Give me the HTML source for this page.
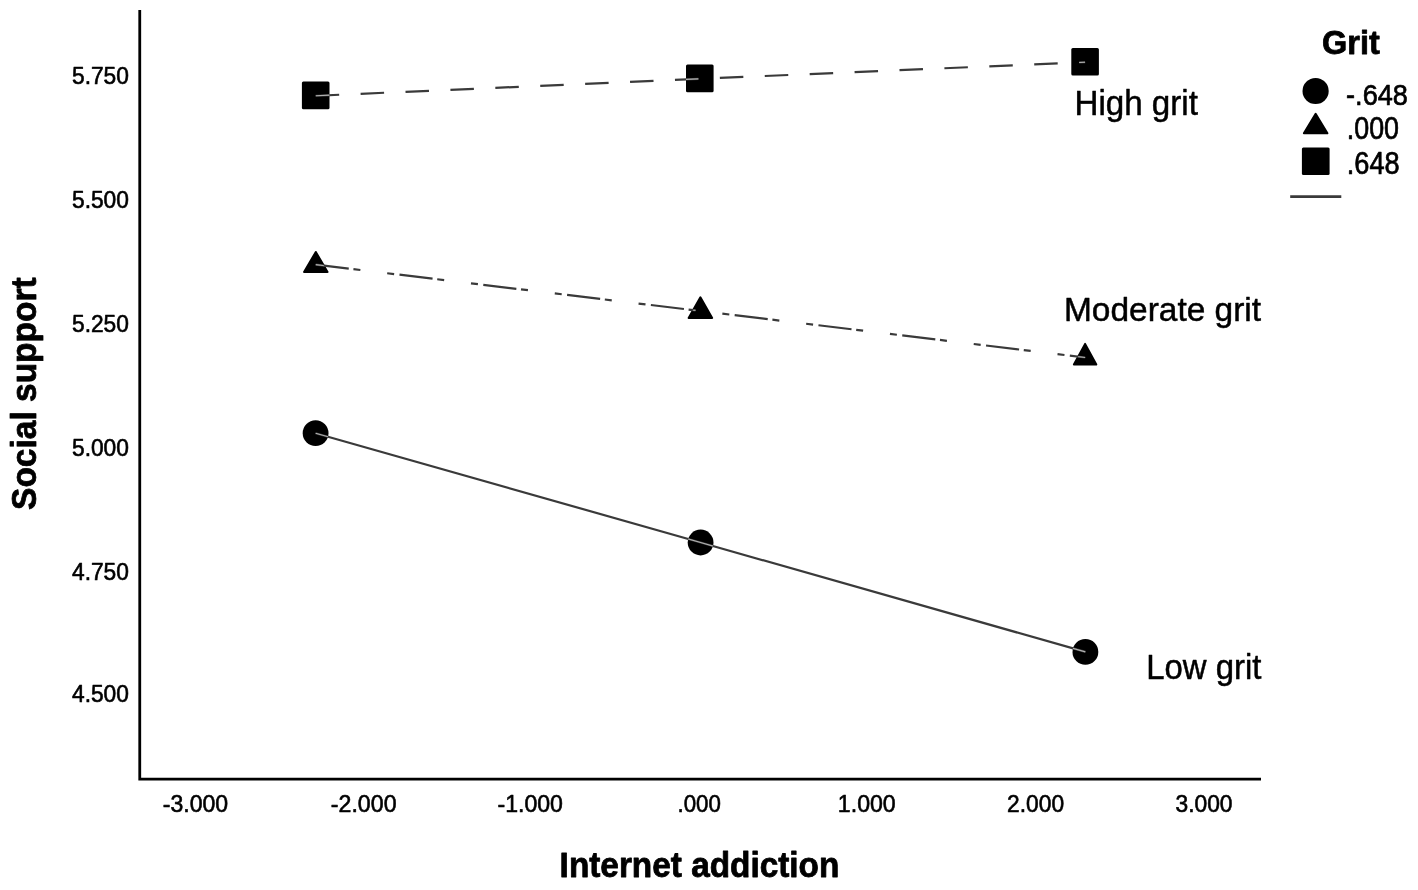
<!DOCTYPE html>
<html><head><meta charset="utf-8"><title>Social support by Internet addiction and Grit</title>
<style>
html,body{margin:0;padding:0;background:#fff;}
body{width:1418px;height:890px;overflow:hidden;}
svg{display:block;font-family:"Liberation Sans",Arial,Helvetica,sans-serif;}
</style></head>
<body>
<svg width="1418" height="890" viewBox="0 0 1418 890">
<rect width="1418" height="890" fill="#fff"/>

<defs><clipPath id="mk">
<rect x="301.9" y="81.6" width="27.6" height="27.6" rx="1.5"/>
<rect x="686.0" y="64.6" width="27.6" height="27.6" rx="1.5"/>
<rect x="1071.3" y="48.0" width="27.6" height="27.6" rx="1.5"/>
<polygon points="315.80,251.97 327.55,271.90 304.05,271.90" stroke="#000" stroke-width="2.0" stroke-linejoin="round"/>
<polygon points="700.40,297.32 712.18,318.00 688.62,318.00" stroke="#000" stroke-width="2.0" stroke-linejoin="round"/>
<polygon points="1085.10,343.89 1096.32,364.50 1073.88,364.50" stroke="#000" stroke-width="2.0" stroke-linejoin="round"/>
<circle cx="315.6" cy="433.2" r="12.9"/>
<circle cx="700.6" cy="542.5" r="12.9"/>
<circle cx="1085.4" cy="651.9" r="12.9"/>
</clipPath></defs>
<g fill="#000">
<rect x="301.9" y="81.6" width="27.6" height="27.6" rx="1.5"/>
<rect x="686.0" y="64.6" width="27.6" height="27.6" rx="1.5"/>
<rect x="1071.3" y="48.0" width="27.6" height="27.6" rx="1.5"/>
<polygon points="315.80,251.97 327.55,271.90 304.05,271.90" stroke="#000" stroke-width="2.0" stroke-linejoin="round"/>
<polygon points="700.40,297.32 712.18,318.00 688.62,318.00" stroke="#000" stroke-width="2.0" stroke-linejoin="round"/>
<polygon points="1085.10,343.89 1096.32,364.50 1073.88,364.50" stroke="#000" stroke-width="2.0" stroke-linejoin="round"/>
<circle cx="315.6" cy="433.2" r="12.9"/>
<circle cx="700.6" cy="542.5" r="12.9"/>
<circle cx="1085.4" cy="651.9" r="12.9"/>
<circle cx="1315.6" cy="91.0" r="13.1"/>
<polygon points="1315.65,113.74 1327.43,133.30 1303.87,133.30" stroke="#000" stroke-width="2.0" stroke-linejoin="round"/>
<rect x="1301.9" y="147.5" width="27.7" height="27.4" rx="1.5"/>
</g>
<g fill="none" stroke="#3a3a3a" stroke-width="2.2">
<polyline points="315.7,95.8 699.8,78.8 1085.1,62.2" stroke-dasharray="23.5 21.45"/>
<polyline points="315.7,264.6 700.4,311.0 1085.2,357.5" stroke-dasharray="33.3 4.7 7 27 7 5.4"/>
<polyline points="315.6,433.2 700.6,542.5 1085.4,651.9"/>
<line x1="1290.2" y1="196.6" x2="1341.3" y2="196.6" stroke-width="2.6"/>
</g>
<g fill="none" stroke="#b0b0b0" stroke-width="1.1" clip-path="url(#mk)">
<polyline points="315.7,95.8 699.8,78.8 1085.1,62.2" stroke-dasharray="23.5 21.45"/>
<polyline points="315.7,264.6 700.4,311.0 1085.2,357.5" stroke-dasharray="33.3 4.7 7 27 7 5.4"/>
<polyline points="315.6,433.2 700.6,542.5 1085.4,651.9"/>
</g>
<path d="M139.75 10 V779.1 H1261" fill="none" stroke="#000" stroke-width="2.8" stroke-linejoin="miter"/>

<g>
<text transform="translate(71.98 83.51) scale(0.9681 1)" font-size="23.52" font-weight="normal" fill="#000" stroke="#000" stroke-width="0.6" stroke-linejoin="round">5.750</text>
<text transform="translate(71.98 207.61) scale(0.9681 1)" font-size="23.52" font-weight="normal" fill="#000" stroke="#000" stroke-width="0.6" stroke-linejoin="round">5.500</text>
<text transform="translate(71.98 331.81) scale(0.9681 1)" font-size="23.52" font-weight="normal" fill="#000" stroke="#000" stroke-width="0.6" stroke-linejoin="round">5.250</text>
<text transform="translate(71.98 455.61) scale(0.9681 1)" font-size="23.52" font-weight="normal" fill="#000" stroke="#000" stroke-width="0.6" stroke-linejoin="round">5.000</text>
<text transform="translate(71.98 579.86) scale(0.9682 1)" font-size="23.52" font-weight="normal" fill="#000" stroke="#000" stroke-width="0.6" stroke-linejoin="round">4.750</text>
<text transform="translate(71.98 702.26) scale(0.9682 1)" font-size="23.52" font-weight="normal" fill="#000" stroke="#000" stroke-width="0.6" stroke-linejoin="round">4.500</text>
<text transform="translate(162.75 811.66) scale(0.9632 1)" font-size="23.94" font-weight="normal" fill="#000" stroke="#000" stroke-width="0.6" stroke-linejoin="round">-3.000</text>
<text transform="translate(330.85 811.66) scale(0.9677 1)" font-size="23.94" font-weight="normal" fill="#000" stroke="#000" stroke-width="0.6" stroke-linejoin="round">-2.000</text>
<text transform="translate(497.45 811.66) scale(0.9662 1)" font-size="23.94" font-weight="normal" fill="#000" stroke="#000" stroke-width="0.6" stroke-linejoin="round">-1.000</text>
<text transform="translate(677.47 811.66) scale(0.9306 1)" font-size="23.94" font-weight="normal" fill="#000" stroke="#000" stroke-width="0.6" stroke-linejoin="round">.000</text>
<text transform="translate(837.85 811.66) scale(0.9667 1)" font-size="23.94" font-weight="normal" fill="#000" stroke="#000" stroke-width="0.6" stroke-linejoin="round">1.000</text>
<text transform="translate(1007.05 811.66) scale(0.9517 1)" font-size="23.94" font-weight="normal" fill="#000" stroke="#000" stroke-width="0.6" stroke-linejoin="round">2.000</text>
<text transform="translate(1175.47 811.66) scale(0.9529 1)" font-size="23.94" font-weight="normal" fill="#000" stroke="#000" stroke-width="0.6" stroke-linejoin="round">3.000</text>
<text transform="translate(1074.49 115.00) scale(0.9596 1)" font-size="34.55" font-weight="normal" fill="#000" stroke="#000" stroke-width="0.5" stroke-linejoin="round">High grit</text>
<text transform="translate(1063.97 321.10) scale(0.9925 1)" font-size="33.72" font-weight="normal" fill="#000" stroke="#000" stroke-width="0.5" stroke-linejoin="round">Moderate grit</text>
<text transform="translate(1146.21 678.80) scale(0.9604 1)" font-size="34.28" font-weight="normal" fill="#000" stroke="#000" stroke-width="0.5" stroke-linejoin="round">Low grit</text>
<text transform="translate(1322.09 53.70) scale(0.9809 1)" font-size="33.10" font-weight="bold" fill="#000" stroke="#000" stroke-width="0.8" stroke-linejoin="round">Grit</text>
<text transform="translate(1346.09 104.65) scale(0.8912 1)" font-size="30.42" font-weight="normal" fill="#000" stroke="#000" stroke-width="0.7" stroke-linejoin="round">-.648</text>
<text transform="translate(1346.79 138.64) scale(0.8737 1)" font-size="30.70" font-weight="normal" fill="#000" stroke="#000" stroke-width="0.7" stroke-linejoin="round">.000</text>
<text transform="translate(1346.76 174.34) scale(0.8861 1)" font-size="30.70" font-weight="normal" fill="#000" stroke="#000" stroke-width="0.7" stroke-linejoin="round">.648</text>
<text transform="translate(559.62 876.80) scale(0.9598 1)" font-size="34.76" font-weight="bold" fill="#000" stroke="#000" stroke-width="0.8" stroke-linejoin="round">Internet addiction</text>
<text transform="translate(36.2 509.3) rotate(-90) translate(-0.63 0) scale(0.9339 1)" font-size="35.86" font-weight="bold" fill="#000" stroke="#000" stroke-width="0.8" stroke-linejoin="round">Social support</text>
</g>
</svg>
</body></html>
